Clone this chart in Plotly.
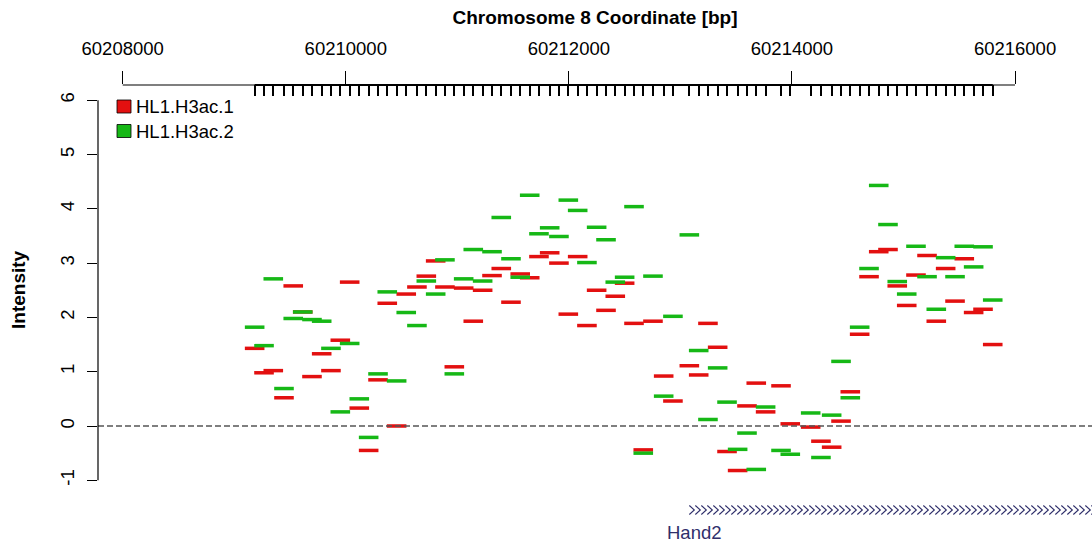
import plotly.graph_objects as go

# ---------------- data ----------------
positions = [
    60209183, 60209267, 60209350, 60209446, 60209529, 60209614, 60209697, 60209784,
    60209867, 60209951, 60210035, 60210121, 60210205, 60210289, 60210372, 60210456,
    60210542, 60210638, 60210722, 60210806, 60210889, 60210973, 60211057, 60211143,
    60211227, 60211311, 60211394, 60211481, 60211564, 60211649, 60211732, 60211828,
    60211911, 60211995, 60212079, 60212162, 60212249, 60212333, 60212416, 60212500,
    60212584, 60212667, 60212754, 60212850, 60212933, 60213080, 60213164, 60213247,
    60213334, 60213418, 60213513, 60213597, 60213680, 60213764, 60213902, 60213985,
    60214168, 60214260, 60214356, 60214440, 60214523, 60214607, 60214691, 60214778,
    60214861, 60214944, 60215029, 60215112, 60215211, 60215294, 60215378, 60215462,
    60215545, 60215629, 60215713, 60215800,
]
h3ac_1 = [
    1.43, 0.98, 1.02, 0.52, 2.58, 2.10, 0.91, 1.33, 1.02, 1.58, 2.65, 0.33, -0.45, 0.85, 2.26, 0.00,
    2.43, 2.56, 2.76, 3.04, 2.56, 1.09, 2.54, 1.93, 2.50, 2.77, 2.90, 2.28, 2.80, 2.73, 3.12, 3.19,
    3.00, 2.06, 3.12, 1.85, 2.50, 2.13, 2.39, 2.63, 1.89, -0.44, 1.93, 0.92, 0.46, 1.11, 0.94, 1.89,
    1.45, -0.47, -0.82, 0.37, 0.79, 0.26, 0.74, 0.04, -0.02, -0.28, -0.39, 0.09, 0.63, 1.69, 2.75, 3.21,
    3.25, 2.58, 2.22, 2.78, 3.14, 1.93, 2.90, 2.30, 3.08, 2.09, 2.15, 1.50,
]
h3ac_2 = [
    1.82, 1.48, 2.71, 0.69, 1.98, 2.10, 1.96, 1.93, 1.43, 0.26, 1.52, 0.50, -0.21, 0.96, 2.47, 0.83,
    2.09, 1.85, 2.67, 2.43, 3.06, 0.96, 2.71, 3.25, 2.67, 3.21, 3.84, 3.08, 2.74, 4.25, 3.54, 3.65,
    3.49, 4.16, 3.97, 3.01, 3.66, 3.43, 2.65, 2.74, 4.04, -0.50, 2.76, 0.55, 2.02, 3.52, 1.39, 0.12,
    1.07, 0.44, -0.43, -0.13, -0.80, 0.35, -0.45, -0.52, 0.24, -0.58, 0.20, 1.19, 0.52, 1.82, 2.90, 4.43,
    3.71, 2.66, 2.43, 3.31, 2.75, 2.15, 3.10, 2.75, 3.31, 2.93, 3.30, 2.32,
]
series_names = ["HL1.H3ac.1", "HL1.H3ac.2"]
x_ticks = [60208000, 60210000, 60212000, 60214000, 60216000]
y_ticks = [-1, 0, 1, 2, 3, 4, 5, 6]
gene_name = "Hand2"
gene_start = 60213080
gene_end = 60216800   # runs off the right edge of the view

# ---------------- layout geometry ----------------
W, H = 1092, 545
ML, MT = 98, 85
PW, PH = W - ML, H - MT
X0, X1 = 60207778.6, 60216690.0
Y0, Y1 = -2.1915, 6.280
BP_PER_PX = (X1 - X0) / PW
VAL_PER_PX = (Y1 - Y0) / PH

RED = "#E31010"
GREEN = "#16B816"
NAVY = "#2F2F6B"
FONT = "Liberation Sans, Arial, sans-serif"


def px_x(p):
    return (p - ML) / PW


def px_y(p):
    return 1 - (p - MT) / PH


fig = go.Figure()
for vals, col in [(h3ac_1, RED), (h3ac_2, GREEN)]:
    fig.add_trace(go.Scatter(
        x=positions, y=vals, mode="markers",
        marker=dict(symbol="line-ew", size=14, color=col, line=dict(width=3.5, color=col)),
        showlegend=False, hoverinfo="x+y",
    ))
# carrier trace for the probe rug axis
fig.add_trace(go.Scatter(x=[positions[0]], y=[None], xaxis="x2", showlegend=False,
                         hoverinfo="skip", mode="markers"))

# gene strand glyphs (">" chevrons along the gene body)
track_y = -1.547
step = 6.0 * BP_PER_PX
cw = 5.0 * BP_PER_PX
ch = 4.5 * VAL_PER_PX
cx, cy = [], []
p = gene_start
while p < gene_end:
    cx += [p, p + cw, p, None]
    cy += [track_y + ch, track_y, track_y - ch, None]
    p += step
fig.add_trace(go.Scatter(x=cx, y=cy, mode="lines", line=dict(color=NAVY, width=1.1),
                         showlegend=False, hoverinfo="skip"))

shapes = [
    # zero reference line
    dict(type="line", xref="paper", yref="y", x0=0, x1=1, y0=0, y1=0,
         line=dict(color="#555555", width=1.5, dash="6px,3px")),
    # top axis line
    dict(type="line", xref="x", yref="paper", x0=x_ticks[0], x1=x_ticks[-1], y0=1, y1=1,
         line=dict(color="black", width=1.2)),
    dict(type="line", xref="x", yref="paper", x0=positions[0], x1=positions[-1], y0=1, y1=1,
         line=dict(color="black", width=2.2)),
    # left axis line
    dict(type="line", xref="paper", yref="y", x0=0, x1=0, y0=y_ticks[0], y1=y_ticks[-1],
         line=dict(color="black", width=1.2)),
]
annotations = []
# legend
for i, (name, col) in enumerate(zip(series_names, [RED, GREEN])):
    cyy = 106.5 + 24.5 * i
    shapes.append(dict(type="rect", xref="paper", yref="paper",
                       x0=px_x(117), x1=px_x(131), y0=px_y(cyy + 6.5), y1=px_y(cyy - 6.5),
                       fillcolor=col, line=dict(color="black", width=0.8)))
    annotations.append(dict(text=name, xref="paper", yref="paper", x=px_x(134), y=px_y(cyy + 0.5),
                            xanchor="left", yanchor="middle", showarrow=False,
                            font=dict(family=FONT, size=18.5, color="black")))

# y axis title
annotations.append(dict(text="<b>Intensity</b>", xref="paper", yref="paper", x=px_x(18), y=px_y(290),
                        textangle=-90, showarrow=False, xanchor="center", yanchor="middle",
                        font=dict(family=FONT, size=19, color="black")))
# gene label
annotations.append(dict(text=gene_name, xref="x", yref="y", x=60213122, y=-1.97,
                        xanchor="center", yanchor="middle", showarrow=False,
                        font=dict(family=FONT, size=18.5, color=NAVY)))

fig.update_layout(
    width=W, height=H,
    margin=dict(l=ML, r=0, t=MT, b=0, pad=0),
    paper_bgcolor="white", plot_bgcolor="white",
    font=dict(family=FONT, size=18.5, color="black"),
    showlegend=False,
    shapes=shapes, annotations=annotations,
    xaxis=dict(
        side="top", range=[X0, X1], tickmode="array", tickvals=x_ticks,
        ticktext=[str(v) for v in x_ticks], ticks="outside", ticklen=13, tickwidth=1.2,
        tickcolor="black", showgrid=False, zeroline=False, showline=False,
        tickfont=dict(family=FONT, size=18.5, color="black"), ticklabelstandoff=9,
        title=dict(text="<b>Chromosome 8 Coordinate [bp]</b>", standoff=7,
                   font=dict(family=FONT, size=19, color="black")),
    ),
    xaxis2=dict(
        overlaying="x", side="top", anchor="y", range=[X0, X1], tickmode="array",
        tickvals=positions, ticks="inside", ticklen=11, tickwidth=2, tickcolor="black",
        showticklabels=False, showgrid=False, zeroline=False, showline=False,
    ),
    yaxis=dict(
        range=[Y0, Y1], tickmode="array", tickvals=y_ticks, ticktext=[str(v) for v in y_ticks],
        ticks="outside", ticklen=10, tickwidth=1.2, tickcolor="black", tickangle=-90,
        showgrid=False, zeroline=False, showline=False, ticklabelstandoff=6,
        tickfont=dict(family=FONT, size=18.5, color="black"),
    ),
)

fig.write_html("out.html")
